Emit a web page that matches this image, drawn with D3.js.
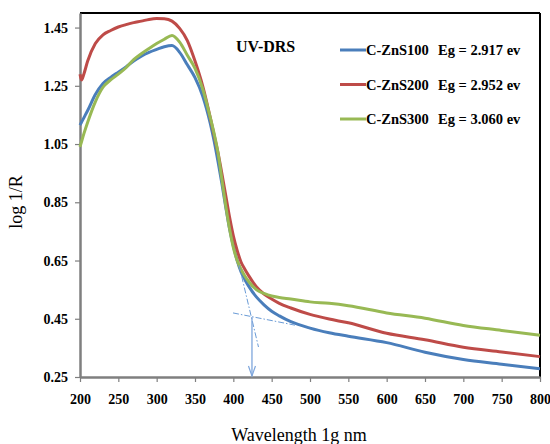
<!DOCTYPE html>
<html>
<head>
<meta charset="utf-8">
<script src="https://cdn.jsdelivr.net/npm/d3@7"></script>
<style>
	body { margin: 0; background: #fff; }
	svg text { font-family: "Liberation Serif", "DejaVu Serif", serif !important; }
</style>
</head>
<body>
<div id="chart"></div>
<script>
AREA_WIDTH = 550;
AREA_HEIGHT = 444;

// wavelengths (nm)
let wavelengths = [200, 202, 205, 210, 220, 230, 240, 250, 260, 270, 280, 290, 300, 310, 320, 330, 340, 350, 360, 370, 375, 380, 385, 390, 395, 400, 405, 410, 415, 420, 430, 440, 450, 460, 475, 500, 525, 550, 600, 650, 700, 750, 800];

// log 1/R for each sample
let zns100 = [1.115, 1.125, 1.14, 1.165, 1.22, 1.258, 1.279, 1.297, 1.315, 1.335, 1.352, 1.365, 1.375, 1.384, 1.388, 1.365, 1.322, 1.278, 1.215, 1.12, 1.06, 0.99, 0.915, 0.835, 0.76, 0.70, 0.65, 0.612, 0.585, 0.562, 0.525, 0.498, 0.476, 0.46, 0.44, 0.418, 0.402, 0.39, 0.368, 0.335, 0.31, 0.294, 0.278];
let zns200 = [1.29, 1.27, 1.29, 1.335, 1.395, 1.425, 1.44, 1.452, 1.46, 1.467, 1.472, 1.478, 1.481, 1.48, 1.472, 1.447, 1.405, 1.335, 1.25, 1.14, 1.08, 1.02, 0.95, 0.875, 0.80, 0.735, 0.685, 0.645, 0.62, 0.598, 0.56, 0.535, 0.518, 0.503, 0.487, 0.465, 0.449, 0.436, 0.40, 0.378, 0.352, 0.336, 0.32];
let zns300 = [1.04, 1.058, 1.085, 1.125, 1.195, 1.245, 1.27, 1.29, 1.312, 1.34, 1.36, 1.378, 1.395, 1.41, 1.423, 1.40, 1.355, 1.31, 1.24, 1.14, 1.085, 1.02, 0.93, 0.84, 0.76, 0.695, 0.65, 0.62, 0.597, 0.578, 0.55, 0.537, 0.528, 0.523, 0.518, 0.508, 0.503, 0.495, 0.47, 0.452, 0.427, 0.41, 0.393];

let series_names = ['C-ZnS100', 'C-ZnS200', 'C-ZnS300'];
let band_gaps = ['Eg = 2.917 ev', 'Eg = 2.952 ev', 'Eg = 3.060 ev'];
let series_colors = ['#4a7ebb', '#be4b48', '#98b954'];

let x_ticks = [200, 250, 300, 350, 400, 450, 500, 550, 600, 650, 700, 750, 800];
let y_ticks = [0.25, 0.45, 0.65, 0.85, 1.05, 1.25, 1.45];

// tangent construction for the band edge of C-ZnS100
let steep_tangent = [[407.4, 0.634], [432.8, 0.353]];
let tail_tangent = [[399.6, 0.47], [480.4, 0.428]];
let edge_arrow = [[424.3, 0.456], [424.3, 0.25]];

const svg = d3.select("#chart")
	.append("svg")
		.attr('height', AREA_HEIGHT)
		.attr('width', AREA_WIDTH)
		.attr('font-family', 'Liberation Serif')

const x = d3.scaleLinear().domain([200, 800]).range([80, 540]);
const y = d3.scaleLinear().domain([0.25, 1.5]).range([377, 13]);

// plot frame: top and right black
svg.append("line")
	.attr("x1", 80).attr("x2", 540).attr("y1", 13).attr("y2", 13)
	.attr("stroke", "black").attr("stroke-width", 2)
svg.append("line")
	.attr("x1", 540).attr("x2", 540).attr("y1", 13).attr("y2", 377)
	.attr("stroke", "black").attr("stroke-width", 2)

// axes
const x_axis = svg.append("g")
	.attr("transform", "translate(0,377)")
	.call(d3.axisBottom(x).tickValues(x_ticks).tickSize(5).tickSizeOuter(0).tickPadding(12))
const y_axis = svg.append("g")
	.attr("transform", "translate(80,0)")
	.call(d3.axisLeft(y).tickValues(y_ticks).tickFormat(d3.format(".2f")).tickSize(5).tickSizeOuter(0).tickPadding(7))

;[x_axis, y_axis].map(ax => {
	ax.attr("font-family", null)
	ax.select(".domain").attr("stroke", "#7f7f7f").attr("stroke-width", 2.5)
	ax.selectAll(".tick line").attr("stroke", "#7f7f7f").attr("stroke-width", 1.2)
	ax.selectAll("text")
		.attr("fill", "black")
		.attr("font-weight", "bold")
		.attr("font-size", 14)
})

// data lines
const line = d3.line()
	.x(d => x(d[0]))
	.y(d => y(d[1]))
	.curve(d3.curveMonotoneX)

;[zns100, zns200, zns300].map((vals, n) => {
	svg.append("path")
		.datum(wavelengths.map((w, i) => [w, vals[i]]))
		.attr("d", line)
		.attr("fill", "none")
		.attr("stroke", series_colors[n])
		.attr("stroke-width", 3)
})

// tangent lines (dash dot)
;[steep_tangent, tail_tangent].map(seg => {
	svg.append("path")
		.datum(seg)
		.attr("d", d3.line().x(d => x(d[0])).y(d => y(d[1])))
		.attr("stroke", "#6a9bd6")
		.attr("stroke-width", 1)
		.attr("stroke-dasharray", "6,2,1.5,2")
		.attr("fill", "none")
})

// arrow to the axis
svg.append("line")
	.attr("x1", x(edge_arrow[0][0])).attr("y1", y(edge_arrow[0][1]))
	.attr("x2", x(edge_arrow[1][0])).attr("y2", y(edge_arrow[1][1]) - 1)
	.attr("stroke", "#7ea6dc").attr("stroke-width", 1.3)
svg.append("path")
	.attr("d", "M" + (x(edge_arrow[1][0]) - 3.5) + "," + (y(edge_arrow[1][1]) - 11)
		+ "L" + x(edge_arrow[1][0]) + "," + (y(edge_arrow[1][1]) - 1)
		+ "L" + (x(edge_arrow[1][0]) + 3.5) + "," + (y(edge_arrow[1][1]) - 11))
	.attr("fill", "none")
	.attr("stroke", "#7ea6dc").attr("stroke-width", 1.2)

// title & legend
svg.append("text")
	.attr("x", 236).attr("y", 52)
	.attr("font-weight", "bold").attr("font-size", 16)
	.text("UV-DRS")

series_names.map((name, n) => {
	let ly = 50 + n * 34.5;
	svg.append("line")
		.attr("x1", 340).attr("x2", 366).attr("y1", ly).attr("y2", ly)
		.attr("stroke", series_colors[n]).attr("stroke-width", 3)
	svg.append("text")
		.attr("x", 366).attr("y", ly + 5)
		.attr("font-weight", "bold").attr("font-size", 14.5)
		.text(name)
	svg.append("text")
		.attr("x", 438).attr("y", ly + 5)
		.attr("font-weight", "bold").attr("font-size", 14.5)
		.text(band_gaps[n])
})

// axis titles
svg.append("text")
	.attr("x", 299).attr("y", 441)
	.attr("text-anchor", "middle")
	.attr("font-size", 18)
	.text("Wavelength 1g nm")
svg.append("text")
	.attr("transform", "translate(22,202) rotate(-90)")
	.attr("text-anchor", "middle")
	.attr("font-size", 18)
	.text("log 1/R")
</script>
</body>
</html>
